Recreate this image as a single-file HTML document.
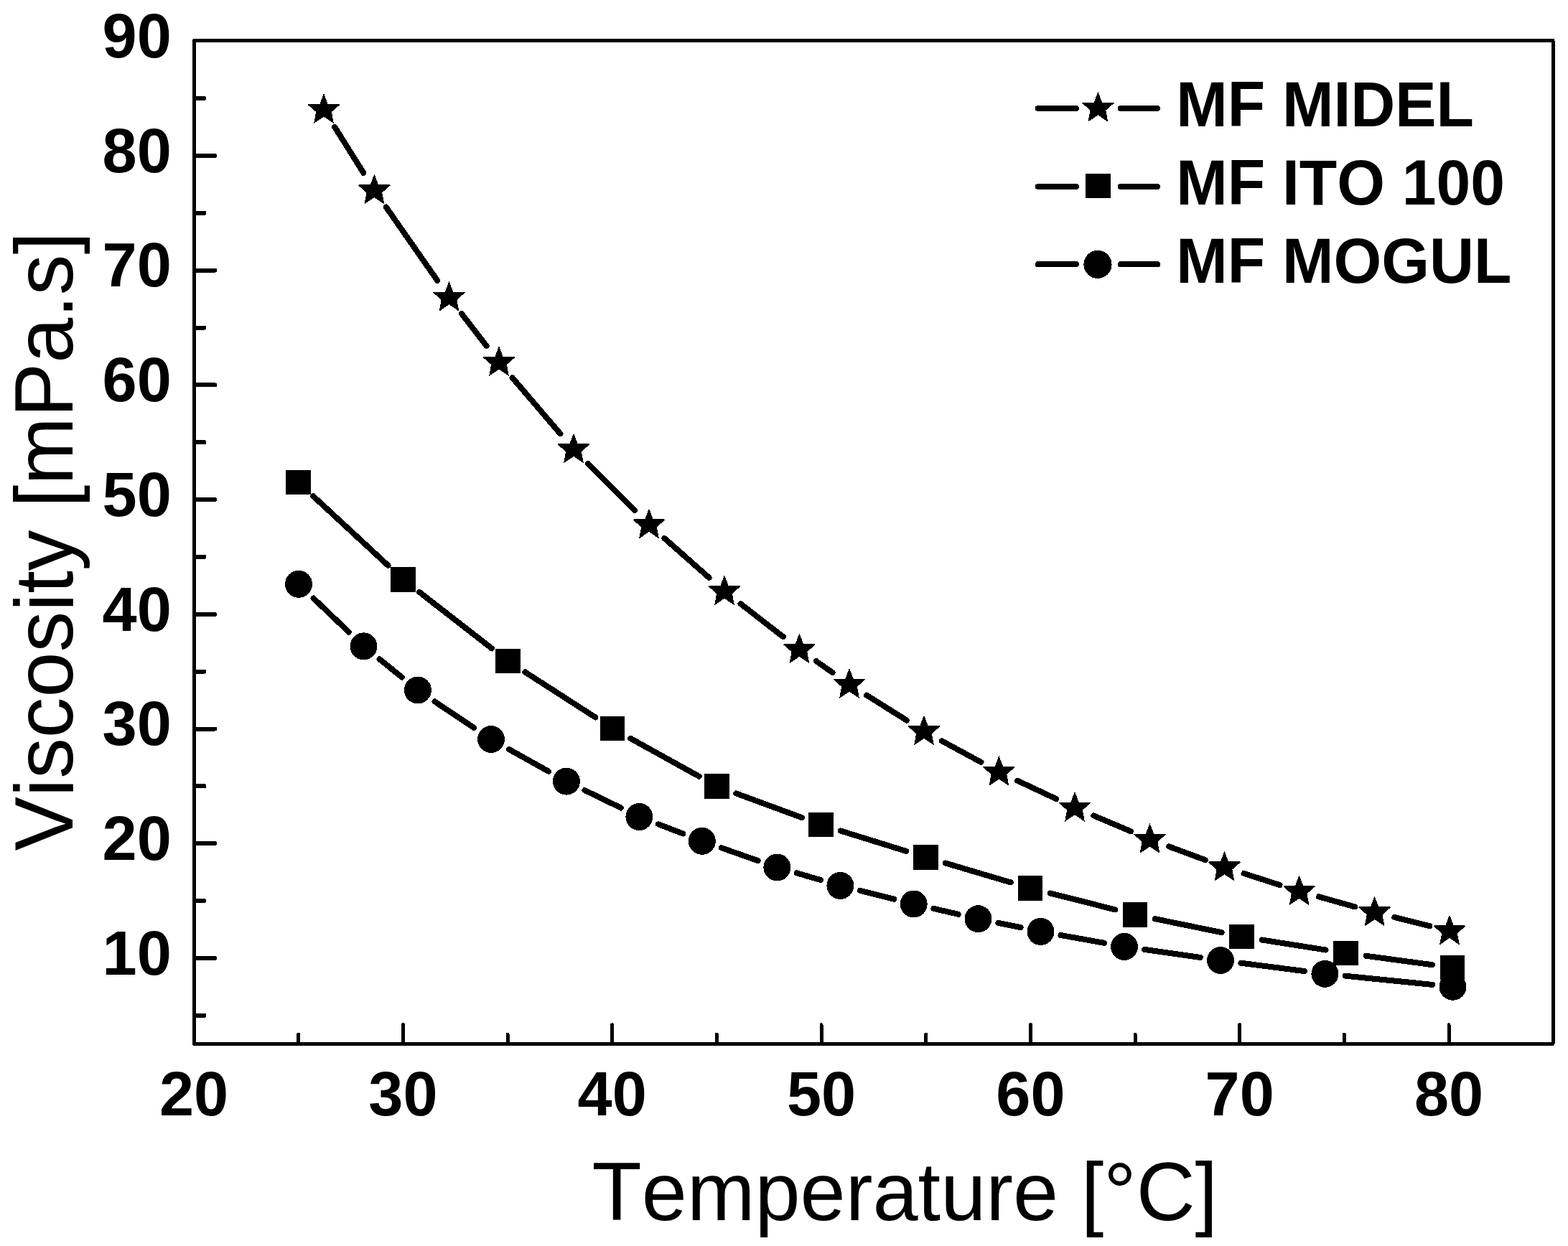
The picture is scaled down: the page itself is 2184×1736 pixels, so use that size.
<!DOCTYPE html><html><head><meta charset="utf-8"><title>Viscosity vs Temperature</title><style>html,body{margin:0;padding:0;background:#fff}svg{display:block}text{font-kerning:none}</style></head><body><svg width="2184" height="1736" viewBox="0 0 2184 1736" shape-rendering="crispEdges">
<rect width="2184" height="1736" fill="#fff"/>
<g fill="none" stroke="#000" stroke-width="8.0" stroke-linecap="round">
<path d="M466.1 176.8L506.3 240.8M537.7 288.4L609.2 390.9M642.9 436.9L677.6 482.0M713.6 526.2L780.4 604.3M819.1 646.1L883.9 710.8M925.4 749.9L987.6 804.8M1031.5 841.2L1090.9 887.3M1136.8 921.1L1159.6 937.1M1207.1 968.6L1262.9 1003.6M1312.0 1032.4L1366.4 1061.9M1417.2 1087.7L1471.2 1113.1M1523.3 1136.4L1575.2 1158.3M1628.2 1179.4L1678.8 1198.2M1732.6 1217.0L1782.5 1233.0M1837.1 1249.4L1887.1 1263.4M1942.3 1277.9L1991.3 1290.1"/>
<path d="M436.3 691.3L540.6 787.9M584.0 824.8L685.0 903.4M731.4 936.4L829.2 999.4M878.0 1028.7L973.7 1081.7M1025.3 1105.4L1116.8 1139.1M1170.7 1157.5L1262.3 1185.9M1316.8 1202.5L1407.7 1229.4M1462.6 1244.5L1553.4 1267.4M1608.9 1280.2L1701.6 1299.2M1757.6 1309.5L1846.5 1323.5M1902.8 1331.8L1994.8 1344.2"/>
<path d="M436.6 833.5L485.9 880.7M528.6 918.3L559.8 943.6M605.6 977.4L660.3 1014.1M708.9 1043.9L764.0 1074.7M814.5 1101.1L864.8 1125.5M917.0 1148.3L951.2 1161.5M1004.7 1181.2L1055.5 1199.1M1109.8 1216.4L1143.0 1226.0M1198.0 1240.8L1245.1 1252.6M1300.5 1265.9L1334.7 1273.8M1390.4 1285.9L1421.6 1292.2M1477.5 1303.0L1538.0 1313.8M1594.2 1322.9L1671.8 1334.0M1728.3 1341.7L1817.1 1353.1M1873.8 1359.7L1995.1 1371.9"/>
</g>
<g fill="#000">
<path d="M451.00 130.10L456.60 144.80L472.00 144.80L473.40 145.90L461.90 156.00L464.90 172.10L451.00 162.70L437.10 172.10L440.10 156.00L428.60 145.90L430.00 144.80L445.40 144.80ZM521.40 242.50L527.00 257.20L542.40 257.20L543.80 258.30L532.30 268.40L535.30 284.50L521.40 275.10L507.50 284.50L510.50 268.40L499.00 258.30L500.40 257.20L515.80 257.20ZM625.50 391.80L631.10 406.50L646.50 406.50L647.90 407.60L636.40 417.70L639.40 433.80L625.50 424.40L611.60 433.80L614.60 417.70L603.10 407.60L604.50 406.50L619.90 406.50ZM695.00 482.10L700.60 496.80L716.00 496.80L717.40 497.90L705.90 508.00L708.90 524.10L695.00 514.70L681.10 524.10L684.10 508.00L672.60 497.90L674.00 496.80L689.40 496.80ZM799.00 603.40L804.60 618.10L820.00 618.10L821.40 619.20L809.90 629.30L812.90 645.40L799.00 636.00L785.10 645.40L788.10 629.30L776.60 619.20L778.00 618.10L793.40 618.10ZM904.00 708.50L909.60 723.20L925.00 723.20L926.40 724.30L914.90 734.40L917.90 750.50L904.00 741.10L890.10 750.50L893.10 734.40L881.60 724.30L883.00 723.20L898.40 723.20ZM1009.00 801.20L1014.60 815.90L1030.00 815.90L1031.40 817.00L1019.90 827.10L1022.90 843.20L1009.00 833.80L995.10 843.20L998.10 827.10L986.60 817.00L988.00 815.90L1003.40 815.90ZM1113.40 882.30L1119.00 897.00L1134.40 897.00L1135.80 898.10L1124.30 908.20L1127.30 924.30L1113.40 914.90L1099.50 924.30L1102.50 908.20L1091.00 898.10L1092.40 897.00L1107.80 897.00ZM1183.00 930.90L1188.60 945.60L1204.00 945.60L1205.40 946.70L1193.90 956.80L1196.90 972.90L1183.00 963.50L1169.10 972.90L1172.10 956.80L1160.60 946.70L1162.00 945.60L1177.40 945.60ZM1287.00 996.30L1292.60 1011.00L1308.00 1011.00L1309.40 1012.10L1297.90 1022.20L1300.90 1038.30L1287.00 1028.90L1273.10 1038.30L1276.10 1022.20L1264.60 1012.10L1266.00 1011.00L1281.40 1011.00ZM1391.40 1053.00L1397.00 1067.70L1412.40 1067.70L1413.80 1068.80L1402.30 1078.90L1405.30 1095.00L1391.40 1085.60L1377.50 1095.00L1380.50 1078.90L1369.00 1068.80L1370.40 1067.70L1385.80 1067.70ZM1497.00 1102.80L1502.60 1117.50L1518.00 1117.50L1519.40 1118.60L1507.90 1128.70L1510.90 1144.80L1497.00 1135.40L1483.10 1144.80L1486.10 1128.70L1474.60 1118.60L1476.00 1117.50L1491.40 1117.50ZM1601.50 1146.90L1607.10 1161.60L1622.50 1161.60L1623.90 1162.70L1612.40 1172.80L1615.40 1188.90L1601.50 1179.50L1587.60 1188.90L1590.60 1172.80L1579.10 1162.70L1580.50 1161.60L1595.90 1161.60ZM1705.50 1185.70L1711.10 1200.40L1726.50 1200.40L1727.90 1201.50L1716.40 1211.60L1719.40 1227.70L1705.50 1218.30L1691.60 1227.70L1694.60 1211.60L1683.10 1201.50L1684.50 1200.40L1699.90 1200.40ZM1809.60 1219.30L1815.20 1234.00L1830.60 1234.00L1832.00 1235.10L1820.50 1245.20L1823.50 1261.30L1809.60 1251.90L1795.70 1261.30L1798.70 1245.20L1787.20 1235.10L1788.60 1234.00L1804.00 1234.00ZM1914.60 1248.50L1920.20 1263.20L1935.60 1263.20L1937.00 1264.30L1925.50 1274.40L1928.50 1290.50L1914.60 1281.10L1900.70 1290.50L1903.70 1274.40L1892.20 1264.30L1893.60 1263.20L1909.00 1263.20ZM2019.00 1274.50L2024.60 1289.20L2040.00 1289.20L2041.40 1290.30L2029.90 1300.40L2032.90 1316.50L2019.00 1307.10L2005.10 1316.50L2008.10 1300.40L1996.60 1290.30L1998.00 1289.20L2013.40 1289.20Z"/>
<rect x="398.1" y="654.6" width="34.5" height="34.5"/>
<rect x="544.2" y="790.0" width="34.5" height="34.5"/>
<rect x="690.2" y="903.6" width="34.5" height="34.5"/>
<rect x="835.9" y="997.6" width="34.5" height="34.5"/>
<rect x="981.4" y="1078.2" width="34.5" height="34.5"/>
<rect x="1126.2" y="1131.8" width="34.5" height="34.5"/>
<rect x="1272.2" y="1177.2" width="34.5" height="34.5"/>
<rect x="1417.8" y="1220.2" width="34.5" height="34.5"/>
<rect x="1563.8" y="1257.2" width="34.5" height="34.5"/>
<rect x="1712.2" y="1287.8" width="34.5" height="34.5"/>
<rect x="1857.3" y="1310.8" width="34.5" height="34.5"/>
<rect x="2005.8" y="1330.8" width="34.5" height="34.5"/>
<circle cx="416.0" cy="813.8" r="19.0"/>
<circle cx="506.5" cy="900.4" r="19.0"/>
<circle cx="581.9" cy="961.5" r="19.0"/>
<circle cx="684.0" cy="1030.0" r="19.0"/>
<circle cx="788.9" cy="1088.6" r="19.0"/>
<circle cx="890.4" cy="1138.0" r="19.0"/>
<circle cx="977.8" cy="1171.8" r="19.0"/>
<circle cx="1082.4" cy="1208.5" r="19.0"/>
<circle cx="1170.4" cy="1233.9" r="19.0"/>
<circle cx="1272.7" cy="1259.5" r="19.0"/>
<circle cx="1362.5" cy="1280.2" r="19.0"/>
<circle cx="1449.5" cy="1297.9" r="19.0"/>
<circle cx="1566.0" cy="1318.9" r="19.0"/>
<circle cx="1700.0" cy="1338.0" r="19.0"/>
<circle cx="1845.4" cy="1356.8" r="19.0"/>
<circle cx="2023.5" cy="1374.8" r="19.0"/>
</g>
<path d="M273.4 1334.9H299.2M273.4 1175.2H299.2M273.4 1015.5H299.2M273.4 855.8H299.2M273.4 696.1H299.2M273.4 536.4H299.2M273.4 376.6H299.2M273.4 216.9H299.2M273.4 1414.8H284.5M273.4 1255.0H284.5M273.4 1095.3H284.5M273.4 935.6H284.5M273.4 775.9H284.5M273.4 616.2H284.5M273.4 456.5H284.5M273.4 296.8H284.5M273.4 137.1H284.5" fill="none" stroke="#000" stroke-width="6" stroke-linecap="round"/>
<path d="M561.4 1451.9V1427.8M852.7 1451.9V1427.8M1144.0 1451.9V1427.8M1435.4 1451.9V1427.8M1726.7 1451.9V1427.8M2018.0 1451.9V1427.8M415.7 1451.9V1441.3M707.1 1451.9V1441.3M998.4 1451.9V1441.3M1289.7 1451.9V1441.3M1581.0 1451.9V1441.3M1872.3 1451.9V1441.3" fill="none" stroke="#000" stroke-width="5" stroke-linecap="round"/>
<rect x="270.4" y="56.5" width="1892.6" height="1397.9" fill="none" stroke="#000" stroke-width="5.0" stroke-linejoin="round"/>
<g font-family="Liberation Sans, Arial, sans-serif" fill="#000">
<text transform="translate(238.8 1357.7) scale(1 1.015)" font-size="86.5" font-weight="bold" text-anchor="end">10</text>
<text transform="translate(238.8 1198.0) scale(1 1.015)" font-size="86.5" font-weight="bold" text-anchor="end">20</text>
<text transform="translate(238.8 1038.3) scale(1 1.015)" font-size="86.5" font-weight="bold" text-anchor="end">30</text>
<text transform="translate(238.8 878.6) scale(1 1.015)" font-size="86.5" font-weight="bold" text-anchor="end">40</text>
<text transform="translate(238.8 718.9) scale(1 1.015)" font-size="86.5" font-weight="bold" text-anchor="end">50</text>
<text transform="translate(238.8 559.2) scale(1 1.015)" font-size="86.5" font-weight="bold" text-anchor="end">60</text>
<text transform="translate(238.8 399.4) scale(1 1.015)" font-size="86.5" font-weight="bold" text-anchor="end">70</text>
<text transform="translate(238.8 239.7) scale(1 1.015)" font-size="86.5" font-weight="bold" text-anchor="end">80</text>
<text transform="translate(238.8 80.0) scale(1 1.015)" font-size="86.5" font-weight="bold" text-anchor="end">90</text>
<text transform="translate(270.1 1554.0) scale(1 1.015)" font-size="86.5" font-weight="bold" text-anchor="middle">20</text>
<text transform="translate(561.4 1554.0) scale(1 1.015)" font-size="86.5" font-weight="bold" text-anchor="middle">30</text>
<text transform="translate(852.7 1554.0) scale(1 1.015)" font-size="86.5" font-weight="bold" text-anchor="middle">40</text>
<text transform="translate(1144.0 1554.0) scale(1 1.015)" font-size="86.5" font-weight="bold" text-anchor="middle">50</text>
<text transform="translate(1435.4 1554.0) scale(1 1.015)" font-size="86.5" font-weight="bold" text-anchor="middle">60</text>
<text transform="translate(1726.7 1554.0) scale(1 1.015)" font-size="86.5" font-weight="bold" text-anchor="middle">70</text>
<text transform="translate(2018.0 1554.0) scale(1 1.015)" font-size="86.5" font-weight="bold" text-anchor="middle">80</text>
<text transform="translate(824.5 1699.7) scale(1 1.015)" font-size="113.5" font-weight="normal" text-anchor="start">Temperature [°C]</text>
<text transform="translate(100.9 1185.5) rotate(-90) scale(1 1.015)" font-size="113.3" font-weight="normal">Viscosity [mPa.s]</text>
<text transform="translate(1638.3 176.0) scale(1 1.034)" font-size="85.8" font-weight="bold" text-anchor="start">MF MIDEL</text>
<text transform="translate(1638.3 285.1) scale(1 1.034)" font-size="85.8" font-weight="bold" text-anchor="start">MF ITO 100</text>
<text transform="translate(1638.3 394.2) scale(1 1.034)" font-size="85.8" font-weight="bold" text-anchor="start">MF MOGUL</text>
</g>
<path d="M1445.8 151.0H1499M1560.8 151.0H1612.2M1445.8 260.0H1499M1560.8 260.0H1612.2M1445.8 368.2H1499M1560.8 368.2H1612.2" fill="none" stroke="#000" stroke-width="8" stroke-linecap="round"/>
<path d="M1529.40 127.80L1535.00 142.50L1550.40 142.50L1551.80 143.60L1540.30 153.70L1543.30 169.80L1529.40 160.40L1515.50 169.80L1518.50 153.70L1507.00 143.60L1508.40 142.50L1523.80 142.50Z" fill="#000"/>
<rect x="1511.9" y="241.9" width="35.2" height="34" fill="#000"/>
<circle cx="1529" cy="368.4" r="19.6" fill="#000"/>
</svg></body></html>
